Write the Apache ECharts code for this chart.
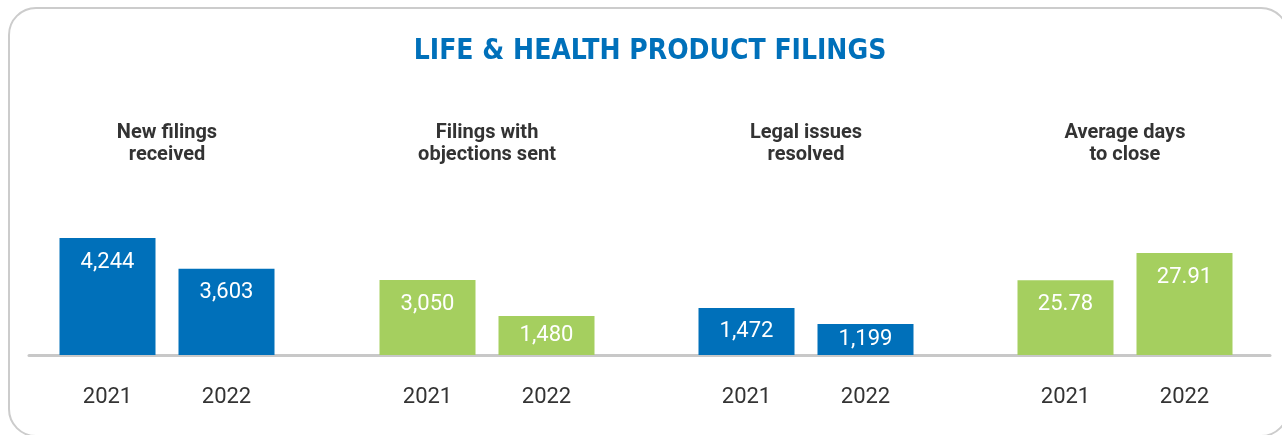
<!DOCTYPE html>
<html>
<head>
<meta charset="utf-8">
<script src="https://cdn.jsdelivr.net/npm/echarts@6/dist/echarts.min.js"></script>
<style>
html,body{margin:0;padding:0;background:#fff;}
#chart{width:1282px;height:435px;}
</style>
</head>
<body>
<div id="chart"></div>
<script>
const chartTitle = 'LIFE & HEALTH PRODUCT FILINGS';
const years = ['2021', '2022'];
const groupTitles = ['New filings\nreceived', 'Filings with\nobjections sent', 'Legal issues\nresolved', 'Average days\nto close'];
const newFilings = [4244, 3603];
const objectionsSent = [3050, 1480];
const legalResolved = [1472, 1199];
const avgDaysToClose = [25.78, 27.91];
const groupValues = [newFilings, objectionsSent, legalResolved, avgDaysToClose];
const groupColors = ['#0070BA', '#A5CF5F', '#0070BA', '#A5CF5F'];
// per-panel value ranges (each panel uses its own scale, as in the reference)
const axisMin = [1800, -220, 670, 19.9];
const axisMax = [5040, 6540, 3315, 32.08];

const groupCenters = [167, 487, 806, 1125];
const panelW = 238;

function fmt(v) {
  if (Math.abs(v) >= 1000) return v.toLocaleString('en-US');
  if (Number.isInteger(v)) return String(v);
  return v.toFixed(2);
}

const grids = [], xAxes = [], yAxes = [], series = [], titles = [];
titles.push({
  text: chartTitle, left: 645, top: 33, textAlign: 'center',
  textStyle: { fontFamily: "'DejaVu Sans Condensed', 'Roboto', sans-serif", fontWeight: 'bold', fontSize: 28, color: '#0070BA' }
});
groupValues.forEach((vals, i) => {
  grids.push({ left: groupCenters[i] - panelW / 2, width: panelW, top: 200, bottom: 80, containLabel: false });
  titles.push({
    text: groupTitles[i], left: groupCenters[i] - 5, top: 117, textAlign: 'center',
    textStyle: { fontFamily: "'Roboto', sans-serif", fontWeight: 'bold', fontSize: 20, lineHeight: 22, color: '#333' }
  });
  xAxes.push({
    type: 'category', gridIndex: i, data: years,
    axisLine: { show: false }, axisTick: { show: false },
    axisLabel: { margin: 31, fontFamily: 'Roboto', fontSize: 22, color: '#333' }
  });
  yAxes.push({
    type: 'value', gridIndex: i, min: axisMin[i], max: axisMax[i], startValue: axisMin[i],
    show: false, splitLine: { show: false }
  });
  series.push({
    type: 'bar', xAxisIndex: i, yAxisIndex: i, data: vals,
    barWidth: 96, itemStyle: { color: groupColors[i] }, clip: true,
    label: {
      show: true, position: 'insideTop', distance: 13,
      fontFamily: 'Roboto', fontSize: 22, color: '#fff',
      formatter: p => fmt(p.value)
    },
    labelLayout: p => ({
      x: p.rect.x + p.rect.width / 2,
      y: Math.min(p.rect.y + 24, p.rect.y + p.rect.height / 2),
      align: 'center', verticalAlign: 'middle'
    }),
    silent: true, animation: false
  });
});
// full-width baseline panel
grids.push({ left: 29, right: 12, top: 200, bottom: 80 });
xAxes.push({
  type: 'value', gridIndex: 4, show: true,
  axisLine: { show: true, onZero: false, lineStyle: { color: '#C8C8C8', width: 3 } },
  axisTick: { show: false }, axisLabel: { show: false }, splitLine: { show: false }
});
yAxes.push({ type: 'value', gridIndex: 4, show: false, splitLine: { show: false } });

const chart = echarts.init(document.getElementById('chart'), null, { renderer: 'canvas' });
chart.setOption({
  backgroundColor: '#fff',
  animation: false,
  title: titles,
  grid: grids,
  xAxis: xAxes,
  yAxis: yAxes,
  series: series,
  graphic: [{
    type: 'rect', z: -10, silent: true,
    shape: { x: 9, y: 8, width: 1279, height: 428, r: 27 },
    style: { fill: 'none', stroke: '#CCCCCC', lineWidth: 2 }
  }]
});
</script>
</body>
</html>
